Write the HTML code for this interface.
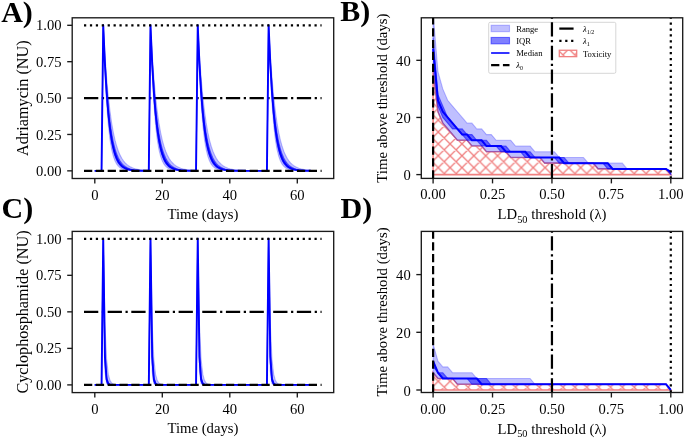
<!DOCTYPE html>
<html><head><meta charset="utf-8"><style>
html,body{margin:0;padding:0;background:#fff;}
svg{display:block;will-change:transform;}
</style></head><body>
<svg width="685" height="438" viewBox="0 0 685 438">
<defs>
<clipPath id="cA"><rect x="72.2" y="17.8" width="261.5" height="160.7"/></clipPath>
<clipPath id="cB"><rect x="421.3" y="17.8" width="261.4" height="160.6"/></clipPath>
<clipPath id="cC"><rect x="72.2" y="231.4" width="261.5" height="161.2"/></clipPath>
<clipPath id="cD"><rect x="421.3" y="231.4" width="261.4" height="161.1"/></clipPath>
<pattern id="hB" patternUnits="userSpaceOnUse" x="-0.95" y="1.45" width="11.87" height="11.87"><path d="M-1,12.87 L12.87,-1 M-1,1 L1,-1 M10.87,12.87 L12.87,10.87 M-1,-1 L12.87,12.87 M10.87,-1 L12.87,1 M-1,10.87 L1,12.87" stroke="#f08080" stroke-width="1.35" fill="none"/></pattern>
<pattern id="hD" patternUnits="userSpaceOnUse" x="-0.95" y="1.45" width="11.87" height="11.87"><path d="M-1,12.87 L12.87,-1 M-1,1 L1,-1 M10.87,12.87 L12.87,10.87 M-1,-1 L12.87,12.87 M10.87,-1 L12.87,1 M-1,10.87 L1,12.87" stroke="#f08080" stroke-width="1.35" fill="none"/></pattern>
</defs>
<rect width="685" height="438" fill="#fff"/>
<g clip-path="url(#cA)">
<line x1="84" y1="98.07" x2="321.6" y2="98.07" stroke="#000" stroke-width="2.232" stroke-dasharray="14.28 3.57 2.23 3.57"/>
<path d="M94.8,170.85 L96.49,170.85 L98.17,170.85 L99.86,170.85 L101.55,170.85 L103.24,25.3 L104.92,54.34 L106.61,77.58 L108.3,96.18 L109.99,111.08 L111.67,123 L113.36,132.55 L115.05,140.19 L116.74,146.3 L118.42,151.2 L120.11,155.12 L121.8,158.26 L123.49,160.77 L125.17,162.78 L126.86,164.39 L128.55,165.68 L130.24,166.71 L131.93,167.54 L133.61,168.2 L135.3,168.73 L136.99,169.15 L138.68,169.49 L140.36,169.76 L142.05,169.98 L143.74,170.15 L145.43,170.29 L147.11,170.4 L148.8,170.49 L150.49,25.3 L152.18,54.11 L153.86,77.39 L155.55,96.04 L157.24,110.96 L158.93,122.91 L160.61,132.47 L162.3,140.13 L163.99,146.26 L165.68,151.16 L167.36,155.09 L169.05,158.23 L170.74,160.75 L172.43,162.77 L174.11,164.38 L175.8,165.67 L177.49,166.7 L179.18,167.53 L180.86,168.19 L182.55,168.72 L184.24,169.15 L185.93,169.49 L187.61,169.76 L189.3,169.98 L190.99,170.15 L192.68,170.29 L194.36,170.4 L196.05,170.49 L197.74,25.3 L199.43,54.11 L201.11,77.39 L202.8,96.04 L204.49,110.96 L206.18,122.91 L207.86,132.47 L209.55,140.13 L211.24,146.26 L212.93,151.16 L214.61,155.09 L216.3,158.23 L217.99,160.75 L219.68,162.77 L221.36,164.38 L223.05,165.67 L224.74,166.7 L226.43,167.53 L228.11,168.19 L229.8,168.72 L231.49,169.15 L233.18,169.49 L234.86,169.76 L236.55,169.98 L238.24,170.15 L239.93,170.29 L241.61,170.4 L243.3,170.49 L244.99,170.56 L246.68,170.62 L248.36,170.67 L250.05,170.7 L251.74,170.73 L253.43,170.76 L255.11,170.77 L256.8,170.79 L258.49,170.8 L260.18,170.81 L261.86,170.82 L263.55,170.83 L265.24,170.83 L266.93,170.83 L268.61,25.3 L270.3,54.32 L271.99,77.57 L273.68,96.18 L275.36,111.07 L277.05,123 L278.74,132.54 L280.43,140.19 L282.11,146.3 L283.8,151.2 L285.49,155.12 L287.18,158.26 L288.86,160.77 L290.55,162.78 L292.24,164.39 L293.93,165.68 L295.61,166.71 L297.3,167.54 L298.99,168.2 L300.68,168.73 L302.36,169.15 L304.05,169.49 L305.74,169.76 L307.43,169.98 L309.11,170.15 L310.8,170.29 L310.8,170.84 L309.11,170.84 L307.43,170.83 L305.74,170.82 L304.05,170.81 L302.36,170.78 L300.68,170.75 L298.99,170.71 L297.3,170.64 L295.61,170.54 L293.93,170.4 L292.24,170.19 L290.55,169.87 L288.86,169.42 L287.18,168.74 L285.49,167.75 L283.8,166.3 L282.11,164.16 L280.43,161.02 L278.74,156.4 L277.05,149.62 L275.36,139.65 L273.68,124.99 L271.99,103.46 L270.3,71.81 L268.61,25.3 L266.93,170.85 L265.24,170.85 L263.55,170.85 L261.86,170.85 L260.18,170.85 L258.49,170.85 L256.8,170.85 L255.11,170.85 L253.43,170.85 L251.74,170.85 L250.05,170.85 L248.36,170.85 L246.68,170.85 L244.99,170.85 L243.3,170.85 L241.61,170.84 L239.93,170.84 L238.24,170.84 L236.55,170.83 L234.86,170.82 L233.18,170.81 L231.49,170.78 L229.8,170.75 L228.11,170.71 L226.43,170.64 L224.74,170.54 L223.05,170.4 L221.36,170.19 L219.68,169.87 L217.99,169.42 L216.3,168.74 L214.61,167.75 L212.93,166.3 L211.24,164.16 L209.55,161.02 L207.86,156.4 L206.18,149.62 L204.49,139.65 L202.8,124.99 L201.11,103.46 L199.43,71.81 L197.74,25.3 L196.05,170.85 L194.36,170.84 L192.68,170.84 L190.99,170.84 L189.3,170.83 L187.61,170.82 L185.93,170.81 L184.24,170.78 L182.55,170.75 L180.86,170.71 L179.18,170.64 L177.49,170.54 L175.8,170.4 L174.11,170.19 L172.43,169.87 L170.74,169.42 L169.05,168.74 L167.36,167.75 L165.68,166.3 L163.99,164.16 L162.3,161.02 L160.61,156.4 L158.93,149.62 L157.24,139.65 L155.55,124.99 L153.86,103.46 L152.18,71.81 L150.49,25.3 L148.8,170.85 L147.11,170.84 L145.43,170.84 L143.74,170.84 L142.05,170.83 L140.36,170.82 L138.68,170.81 L136.99,170.78 L135.3,170.75 L133.61,170.71 L131.93,170.64 L130.24,170.54 L128.55,170.4 L126.86,170.19 L125.17,169.87 L123.49,169.42 L121.8,168.74 L120.11,167.75 L118.42,166.3 L116.74,164.16 L115.05,161.02 L113.36,156.4 L111.67,149.62 L109.99,139.65 L108.3,124.99 L106.61,103.46 L104.92,71.81 L103.24,25.3 L101.55,170.85 L99.86,170.85 L98.17,170.85 L96.49,170.85 L94.8,170.85Z" fill="rgba(0,0,255,0.25)" stroke="rgba(0,0,255,0.25)" stroke-width="1.1" stroke-linejoin="round"/>
<path d="M94.8,170.85 L96.49,170.85 L98.17,170.85 L99.86,170.85 L101.55,170.85 L103.24,25.3 L104.92,59.74 L106.61,86.03 L108.3,106.1 L109.99,121.42 L111.67,133.12 L113.36,142.05 L115.05,148.86 L116.74,154.06 L118.42,158.04 L120.11,161.07 L121.8,163.38 L123.49,165.15 L125.17,166.5 L126.86,167.53 L128.55,168.31 L130.24,168.91 L131.93,169.37 L133.61,169.72 L135.3,169.99 L136.99,170.19 L138.68,170.35 L140.36,170.47 L142.05,170.56 L143.74,170.63 L145.43,170.68 L147.11,170.72 L148.8,170.75 L150.49,25.3 L152.18,59.68 L153.86,85.99 L155.55,106.07 L157.24,121.4 L158.93,133.1 L160.61,142.03 L162.3,148.85 L163.99,154.06 L165.68,158.03 L167.36,161.06 L169.05,163.38 L170.74,165.15 L172.43,166.5 L174.11,167.53 L175.8,168.31 L177.49,168.91 L179.18,169.37 L180.86,169.72 L182.55,169.99 L184.24,170.19 L185.93,170.35 L187.61,170.47 L189.3,170.56 L190.99,170.63 L192.68,170.68 L194.36,170.72 L196.05,170.75 L197.74,25.3 L199.43,59.68 L201.11,85.99 L202.8,106.07 L204.49,121.4 L206.18,133.1 L207.86,142.03 L209.55,148.85 L211.24,154.06 L212.93,158.03 L214.61,161.06 L216.3,163.38 L217.99,165.15 L219.68,166.5 L221.36,167.53 L223.05,168.31 L224.74,168.91 L226.43,169.37 L228.11,169.72 L229.8,169.99 L231.49,170.19 L233.18,170.35 L234.86,170.47 L236.55,170.56 L238.24,170.63 L239.93,170.68 L241.61,170.72 L243.3,170.75 L244.99,170.77 L246.68,170.79 L248.36,170.81 L250.05,170.82 L251.74,170.82 L253.43,170.83 L255.11,170.83 L256.8,170.84 L258.49,170.84 L260.18,170.84 L261.86,170.84 L263.55,170.85 L265.24,170.85 L266.93,170.85 L268.61,25.3 L270.3,59.74 L271.99,86.03 L273.68,106.1 L275.36,121.42 L277.05,133.12 L278.74,142.05 L280.43,148.86 L282.11,154.06 L283.8,158.04 L285.49,161.07 L287.18,163.38 L288.86,165.15 L290.55,166.5 L292.24,167.53 L293.93,168.31 L295.61,168.91 L297.3,169.37 L298.99,169.72 L300.68,169.99 L302.36,170.19 L304.05,170.35 L305.74,170.47 L307.43,170.56 L309.11,170.63 L310.8,170.68 L310.8,170.81 L309.11,170.8 L307.43,170.78 L305.74,170.75 L304.05,170.71 L302.36,170.65 L300.68,170.57 L298.99,170.47 L297.3,170.32 L295.61,170.11 L293.93,169.82 L292.24,169.42 L290.55,168.86 L288.86,168.08 L287.18,166.99 L285.49,165.48 L283.8,163.38 L282.11,160.46 L280.43,156.4 L278.74,150.75 L277.05,142.9 L275.36,131.97 L273.68,116.77 L271.99,95.62 L270.3,66.21 L268.61,25.3 L266.93,170.85 L265.24,170.85 L263.55,170.85 L261.86,170.85 L260.18,170.85 L258.49,170.85 L256.8,170.85 L255.11,170.85 L253.43,170.85 L251.74,170.85 L250.05,170.84 L248.36,170.84 L246.68,170.84 L244.99,170.84 L243.3,170.83 L241.61,170.82 L239.93,170.81 L238.24,170.8 L236.55,170.78 L234.86,170.75 L233.18,170.71 L231.49,170.65 L229.8,170.57 L228.11,170.47 L226.43,170.32 L224.74,170.11 L223.05,169.82 L221.36,169.42 L219.68,168.86 L217.99,168.08 L216.3,166.99 L214.61,165.48 L212.93,163.38 L211.24,160.46 L209.55,156.4 L207.86,150.75 L206.18,142.89 L204.49,131.96 L202.8,116.76 L201.11,95.61 L199.43,66.2 L197.74,25.3 L196.05,170.83 L194.36,170.82 L192.68,170.81 L190.99,170.8 L189.3,170.78 L187.61,170.75 L185.93,170.71 L184.24,170.65 L182.55,170.57 L180.86,170.47 L179.18,170.32 L177.49,170.11 L175.8,169.82 L174.11,169.42 L172.43,168.86 L170.74,168.08 L169.05,166.99 L167.36,165.48 L165.68,163.38 L163.99,160.46 L162.3,156.4 L160.61,150.75 L158.93,142.89 L157.24,131.96 L155.55,116.76 L153.86,95.61 L152.18,66.2 L150.49,25.3 L148.8,170.83 L147.11,170.82 L145.43,170.81 L143.74,170.8 L142.05,170.78 L140.36,170.75 L138.68,170.71 L136.99,170.65 L135.3,170.57 L133.61,170.47 L131.93,170.32 L130.24,170.11 L128.55,169.82 L126.86,169.42 L125.17,168.86 L123.49,168.08 L121.8,166.99 L120.11,165.48 L118.42,163.38 L116.74,160.46 L115.05,156.4 L113.36,150.75 L111.67,142.9 L109.99,131.97 L108.3,116.77 L106.61,95.62 L104.92,66.21 L103.24,25.3 L101.55,170.85 L99.86,170.85 L98.17,170.85 L96.49,170.85 L94.8,170.85Z" fill="rgba(0,0,255,0.5)" stroke="rgba(0,0,255,0.5)" stroke-width="1.1" stroke-linejoin="round"/>
<path d="M94.8,170.85 L96.49,170.85 L98.17,170.85 L99.86,170.85 L101.55,170.85 L103.24,25.3 L104.92,63.83 L106.61,92.16 L108.3,112.99 L109.99,128.31 L111.67,139.57 L113.36,147.85 L115.05,153.94 L116.74,158.41 L118.42,161.71 L120.11,164.13 L121.8,165.91 L123.49,167.22 L125.17,168.18 L126.86,168.88 L128.55,169.41 L130.24,169.79 L131.93,170.07 L133.61,170.28 L135.3,170.43 L136.99,170.54 L138.68,170.62 L140.36,170.68 L142.05,170.73 L143.74,170.76 L145.43,170.78 L147.11,170.8 L148.8,170.81 L150.49,25.3 L152.18,63.81 L153.86,92.15 L155.55,112.98 L157.24,128.3 L158.93,139.56 L160.61,147.85 L162.3,153.93 L163.99,158.41 L165.68,161.71 L167.36,164.13 L169.05,165.91 L170.74,167.21 L172.43,168.18 L174.11,168.88 L175.8,169.4 L177.49,169.79 L179.18,170.07 L180.86,170.28 L182.55,170.43 L184.24,170.54 L185.93,170.62 L187.61,170.68 L189.3,170.73 L190.99,170.76 L192.68,170.78 L194.36,170.8 L196.05,170.81 L197.74,25.3 L199.43,63.81 L201.11,92.15 L202.8,112.98 L204.49,128.3 L206.18,139.56 L207.86,147.85 L209.55,153.93 L211.24,158.41 L212.93,161.71 L214.61,164.13 L216.3,165.91 L217.99,167.21 L219.68,168.18 L221.36,168.88 L223.05,169.4 L224.74,169.79 L226.43,170.07 L228.11,170.28 L229.8,170.43 L231.49,170.54 L233.18,170.62 L234.86,170.68 L236.55,170.73 L238.24,170.76 L239.93,170.78 L241.61,170.8 L243.3,170.81 L244.99,170.82 L246.68,170.83 L248.36,170.84 L250.05,170.84 L251.74,170.84 L253.43,170.84 L255.11,170.85 L256.8,170.85 L258.49,170.85 L260.18,170.85 L261.86,170.85 L263.55,170.85 L265.24,170.85 L266.93,170.85 L268.61,25.3 L270.3,63.83 L271.99,92.16 L273.68,112.99 L275.36,128.31 L277.05,139.57 L278.74,147.85 L280.43,153.94 L282.11,158.41 L283.8,161.71 L285.49,164.13 L287.18,165.91 L288.86,167.22 L290.55,168.18 L292.24,168.88 L293.93,169.41 L295.61,169.79 L297.3,170.07 L298.99,170.28 L300.68,170.43 L302.36,170.54 L304.05,170.62 L305.74,170.68 L307.43,170.73 L309.11,170.76 L310.8,170.78" fill="none" stroke="#0000ff" stroke-width="1.9" stroke-linejoin="round"/>
<line x1="84" y1="25.3" x2="321.6" y2="25.3" stroke="#000" stroke-width="2.232" stroke-dasharray="2.23 3.68"/>
<line x1="84" y1="170.85" x2="321.6" y2="170.85" stroke="#000" stroke-width="2.232" stroke-dasharray="8.26 3.57"/>
</g>
<rect x="72.2" y="17.8" width="261.5" height="160.7" fill="none" stroke="#1a1a1a" stroke-width="1.35"/>
<line x1="94.8" y1="178.5" x2="94.8" y2="183.5" stroke="#1a1a1a" stroke-width="1.35"/>
<text x="94.8" y="199.5" text-anchor="middle" font-size="14.6" font-family="Liberation Serif, serif">0</text>
<line x1="162.3" y1="178.5" x2="162.3" y2="183.5" stroke="#1a1a1a" stroke-width="1.35"/>
<text x="162.3" y="199.5" text-anchor="middle" font-size="14.6" font-family="Liberation Serif, serif">20</text>
<line x1="229.8" y1="178.5" x2="229.8" y2="183.5" stroke="#1a1a1a" stroke-width="1.35"/>
<text x="229.8" y="199.5" text-anchor="middle" font-size="14.6" font-family="Liberation Serif, serif">40</text>
<line x1="297.3" y1="178.5" x2="297.3" y2="183.5" stroke="#1a1a1a" stroke-width="1.35"/>
<text x="297.3" y="199.5" text-anchor="middle" font-size="14.6" font-family="Liberation Serif, serif">60</text>
<line x1="67.2" y1="170.85" x2="72.2" y2="170.85" stroke="#1a1a1a" stroke-width="1.35"/>
<text x="61.6" y="175.95" text-anchor="end" font-size="14.6" font-family="Liberation Serif, serif">0.00</text>
<line x1="67.2" y1="134.46" x2="72.2" y2="134.46" stroke="#1a1a1a" stroke-width="1.35"/>
<text x="61.6" y="139.56" text-anchor="end" font-size="14.6" font-family="Liberation Serif, serif">0.25</text>
<line x1="67.2" y1="98.07" x2="72.2" y2="98.07" stroke="#1a1a1a" stroke-width="1.35"/>
<text x="61.6" y="103.17" text-anchor="end" font-size="14.6" font-family="Liberation Serif, serif">0.50</text>
<line x1="67.2" y1="61.69" x2="72.2" y2="61.69" stroke="#1a1a1a" stroke-width="1.35"/>
<text x="61.6" y="66.79" text-anchor="end" font-size="14.6" font-family="Liberation Serif, serif">0.75</text>
<line x1="67.2" y1="25.3" x2="72.2" y2="25.3" stroke="#1a1a1a" stroke-width="1.35"/>
<text x="61.6" y="30.4" text-anchor="end" font-size="14.6" font-family="Liberation Serif, serif">1.00</text>
<text x="202.95" y="218.5" text-anchor="middle" font-size="14.7" font-family="Liberation Serif, serif">Time (days)</text>
<text transform="translate(27.8,98.15) rotate(-90)" text-anchor="middle" font-size="16.2" font-family="Liberation Serif, serif">Adriamycin (NU)</text>
<g clip-path="url(#cC)">
<line x1="84" y1="311.85" x2="321.6" y2="311.85" stroke="#000" stroke-width="2.232" stroke-dasharray="14.28 3.57 2.23 3.57"/>
<path d="M94.8,384.9 L96.49,384.9 L98.17,384.9 L99.86,384.9 L101.55,384.9 L103.24,238.8 L104.92,323.69 L106.61,359.26 L108.3,374.16 L109.99,380.4 L111.67,383.01 L113.36,384.11 L115.05,384.57 L116.74,384.76 L118.42,384.84 L120.11,384.88 L121.8,384.89 L123.49,384.9 L125.17,384.9 L126.86,384.9 L128.55,384.9 L130.24,384.9 L131.93,384.9 L133.61,384.9 L135.3,384.9 L136.99,384.9 L138.68,384.9 L140.36,384.9 L142.05,384.9 L143.74,384.9 L145.43,384.9 L147.11,384.9 L148.8,384.9 L150.49,238.8 L152.18,323.69 L153.86,359.26 L155.55,374.16 L157.24,380.4 L158.93,383.01 L160.61,384.11 L162.3,384.57 L163.99,384.76 L165.68,384.84 L167.36,384.88 L169.05,384.89 L170.74,384.9 L172.43,384.9 L174.11,384.9 L175.8,384.9 L177.49,384.9 L179.18,384.9 L180.86,384.9 L182.55,384.9 L184.24,384.9 L185.93,384.9 L187.61,384.9 L189.3,384.9 L190.99,384.9 L192.68,384.9 L194.36,384.9 L196.05,384.9 L197.74,238.8 L199.43,323.69 L201.11,359.26 L202.8,374.16 L204.49,380.4 L206.18,383.01 L207.86,384.11 L209.55,384.57 L211.24,384.76 L212.93,384.84 L214.61,384.88 L216.3,384.89 L217.99,384.9 L219.68,384.9 L221.36,384.9 L223.05,384.9 L224.74,384.9 L226.43,384.9 L228.11,384.9 L229.8,384.9 L231.49,384.9 L233.18,384.9 L234.86,384.9 L236.55,384.9 L238.24,384.9 L239.93,384.9 L241.61,384.9 L243.3,384.9 L244.99,384.9 L246.68,384.9 L248.36,384.9 L250.05,384.9 L251.74,384.9 L253.43,384.9 L255.11,384.9 L256.8,384.9 L258.49,384.9 L260.18,384.9 L261.86,384.9 L263.55,384.9 L265.24,384.9 L266.93,384.9 L268.61,238.8 L270.3,323.69 L271.99,359.26 L273.68,374.16 L275.36,380.4 L277.05,383.01 L278.74,384.11 L280.43,384.57 L282.11,384.76 L283.8,384.84 L285.49,384.88 L287.18,384.89 L288.86,384.9 L290.55,384.9 L292.24,384.9 L293.93,384.9 L295.61,384.9 L297.3,384.9 L298.99,384.9 L300.68,384.9 L302.36,384.9 L304.05,384.9 L305.74,384.9 L307.43,384.9 L309.11,384.9 L310.8,384.9 L310.8,384.9 L309.11,384.9 L307.43,384.9 L305.74,384.9 L304.05,384.9 L302.36,384.9 L300.68,384.9 L298.99,384.9 L297.3,384.9 L295.61,384.9 L293.93,384.9 L292.24,384.9 L290.55,384.9 L288.86,384.9 L287.18,384.9 L285.49,384.9 L283.8,384.9 L282.11,384.9 L280.43,384.9 L278.74,384.9 L277.05,384.9 L275.36,384.89 L273.68,384.78 L271.99,383.64 L270.3,371.31 L268.61,238.8 L266.93,384.9 L265.24,384.9 L263.55,384.9 L261.86,384.9 L260.18,384.9 L258.49,384.9 L256.8,384.9 L255.11,384.9 L253.43,384.9 L251.74,384.9 L250.05,384.9 L248.36,384.9 L246.68,384.9 L244.99,384.9 L243.3,384.9 L241.61,384.9 L239.93,384.9 L238.24,384.9 L236.55,384.9 L234.86,384.9 L233.18,384.9 L231.49,384.9 L229.8,384.9 L228.11,384.9 L226.43,384.9 L224.74,384.9 L223.05,384.9 L221.36,384.9 L219.68,384.9 L217.99,384.9 L216.3,384.9 L214.61,384.9 L212.93,384.9 L211.24,384.9 L209.55,384.9 L207.86,384.9 L206.18,384.9 L204.49,384.89 L202.8,384.78 L201.11,383.64 L199.43,371.31 L197.74,238.8 L196.05,384.9 L194.36,384.9 L192.68,384.9 L190.99,384.9 L189.3,384.9 L187.61,384.9 L185.93,384.9 L184.24,384.9 L182.55,384.9 L180.86,384.9 L179.18,384.9 L177.49,384.9 L175.8,384.9 L174.11,384.9 L172.43,384.9 L170.74,384.9 L169.05,384.9 L167.36,384.9 L165.68,384.9 L163.99,384.9 L162.3,384.9 L160.61,384.9 L158.93,384.9 L157.24,384.89 L155.55,384.78 L153.86,383.64 L152.18,371.31 L150.49,238.8 L148.8,384.9 L147.11,384.9 L145.43,384.9 L143.74,384.9 L142.05,384.9 L140.36,384.9 L138.68,384.9 L136.99,384.9 L135.3,384.9 L133.61,384.9 L131.93,384.9 L130.24,384.9 L128.55,384.9 L126.86,384.9 L125.17,384.9 L123.49,384.9 L121.8,384.9 L120.11,384.9 L118.42,384.9 L116.74,384.9 L115.05,384.9 L113.36,384.9 L111.67,384.9 L109.99,384.89 L108.3,384.78 L106.61,383.64 L104.92,371.31 L103.24,238.8 L101.55,384.9 L99.86,384.9 L98.17,384.9 L96.49,384.9 L94.8,384.9Z" fill="rgba(0,0,255,0.25)" stroke="rgba(0,0,255,0.25)" stroke-width="1.1" stroke-linejoin="round"/>
<path d="M94.8,384.9 L96.49,384.9 L98.17,384.9 L99.86,384.9 L101.55,384.9 L103.24,238.8 L104.92,350.63 L106.61,376.86 L108.3,383.01 L109.99,384.46 L111.67,384.8 L113.36,384.88 L115.05,384.89 L116.74,384.9 L118.42,384.9 L120.11,384.9 L121.8,384.9 L123.49,384.9 L125.17,384.9 L126.86,384.9 L128.55,384.9 L130.24,384.9 L131.93,384.9 L133.61,384.9 L135.3,384.9 L136.99,384.9 L138.68,384.9 L140.36,384.9 L142.05,384.9 L143.74,384.9 L145.43,384.9 L147.11,384.9 L148.8,384.9 L150.49,238.8 L152.18,350.63 L153.86,376.86 L155.55,383.01 L157.24,384.46 L158.93,384.8 L160.61,384.88 L162.3,384.89 L163.99,384.9 L165.68,384.9 L167.36,384.9 L169.05,384.9 L170.74,384.9 L172.43,384.9 L174.11,384.9 L175.8,384.9 L177.49,384.9 L179.18,384.9 L180.86,384.9 L182.55,384.9 L184.24,384.9 L185.93,384.9 L187.61,384.9 L189.3,384.9 L190.99,384.9 L192.68,384.9 L194.36,384.9 L196.05,384.9 L197.74,238.8 L199.43,350.63 L201.11,376.86 L202.8,383.01 L204.49,384.46 L206.18,384.8 L207.86,384.88 L209.55,384.89 L211.24,384.9 L212.93,384.9 L214.61,384.9 L216.3,384.9 L217.99,384.9 L219.68,384.9 L221.36,384.9 L223.05,384.9 L224.74,384.9 L226.43,384.9 L228.11,384.9 L229.8,384.9 L231.49,384.9 L233.18,384.9 L234.86,384.9 L236.55,384.9 L238.24,384.9 L239.93,384.9 L241.61,384.9 L243.3,384.9 L244.99,384.9 L246.68,384.9 L248.36,384.9 L250.05,384.9 L251.74,384.9 L253.43,384.9 L255.11,384.9 L256.8,384.9 L258.49,384.9 L260.18,384.9 L261.86,384.9 L263.55,384.9 L265.24,384.9 L266.93,384.9 L268.61,238.8 L270.3,350.63 L271.99,376.86 L273.68,383.01 L275.36,384.46 L277.05,384.8 L278.74,384.88 L280.43,384.89 L282.11,384.9 L283.8,384.9 L285.49,384.9 L287.18,384.9 L288.86,384.9 L290.55,384.9 L292.24,384.9 L293.93,384.9 L295.61,384.9 L297.3,384.9 L298.99,384.9 L300.68,384.9 L302.36,384.9 L304.05,384.9 L305.74,384.9 L307.43,384.9 L309.11,384.9 L310.8,384.9 L310.8,384.9 L309.11,384.9 L307.43,384.9 L305.74,384.9 L304.05,384.9 L302.36,384.9 L300.68,384.9 L298.99,384.9 L297.3,384.9 L295.61,384.9 L293.93,384.9 L292.24,384.9 L290.55,384.9 L288.86,384.9 L287.18,384.9 L285.49,384.9 L283.8,384.9 L282.11,384.9 L280.43,384.9 L278.74,384.9 L277.05,384.89 L275.36,384.82 L273.68,384.37 L271.99,381.46 L270.3,362.49 L268.61,238.8 L266.93,384.9 L265.24,384.9 L263.55,384.9 L261.86,384.9 L260.18,384.9 L258.49,384.9 L256.8,384.9 L255.11,384.9 L253.43,384.9 L251.74,384.9 L250.05,384.9 L248.36,384.9 L246.68,384.9 L244.99,384.9 L243.3,384.9 L241.61,384.9 L239.93,384.9 L238.24,384.9 L236.55,384.9 L234.86,384.9 L233.18,384.9 L231.49,384.9 L229.8,384.9 L228.11,384.9 L226.43,384.9 L224.74,384.9 L223.05,384.9 L221.36,384.9 L219.68,384.9 L217.99,384.9 L216.3,384.9 L214.61,384.9 L212.93,384.9 L211.24,384.9 L209.55,384.9 L207.86,384.9 L206.18,384.89 L204.49,384.82 L202.8,384.37 L201.11,381.46 L199.43,362.49 L197.74,238.8 L196.05,384.9 L194.36,384.9 L192.68,384.9 L190.99,384.9 L189.3,384.9 L187.61,384.9 L185.93,384.9 L184.24,384.9 L182.55,384.9 L180.86,384.9 L179.18,384.9 L177.49,384.9 L175.8,384.9 L174.11,384.9 L172.43,384.9 L170.74,384.9 L169.05,384.9 L167.36,384.9 L165.68,384.9 L163.99,384.9 L162.3,384.9 L160.61,384.9 L158.93,384.89 L157.24,384.82 L155.55,384.37 L153.86,381.46 L152.18,362.49 L150.49,238.8 L148.8,384.9 L147.11,384.9 L145.43,384.9 L143.74,384.9 L142.05,384.9 L140.36,384.9 L138.68,384.9 L136.99,384.9 L135.3,384.9 L133.61,384.9 L131.93,384.9 L130.24,384.9 L128.55,384.9 L126.86,384.9 L125.17,384.9 L123.49,384.9 L121.8,384.9 L120.11,384.9 L118.42,384.9 L116.74,384.9 L115.05,384.9 L113.36,384.9 L111.67,384.89 L109.99,384.82 L108.3,384.37 L106.61,381.46 L104.92,362.49 L103.24,238.8 L101.55,384.9 L99.86,384.9 L98.17,384.9 L96.49,384.9 L94.8,384.9Z" fill="rgba(0,0,255,0.5)" stroke="rgba(0,0,255,0.5)" stroke-width="1.1" stroke-linejoin="round"/>
<path d="M94.8,384.9 L96.49,384.9 L98.17,384.9 L99.86,384.9 L101.55,384.9 L103.24,238.8 L104.92,356.56 L106.61,379.4 L108.3,383.83 L109.99,384.69 L111.67,384.86 L113.36,384.89 L115.05,384.9 L116.74,384.9 L118.42,384.9 L120.11,384.9 L121.8,384.9 L123.49,384.9 L125.17,384.9 L126.86,384.9 L128.55,384.9 L130.24,384.9 L131.93,384.9 L133.61,384.9 L135.3,384.9 L136.99,384.9 L138.68,384.9 L140.36,384.9 L142.05,384.9 L143.74,384.9 L145.43,384.9 L147.11,384.9 L148.8,384.9 L150.49,238.8 L152.18,356.56 L153.86,379.4 L155.55,383.83 L157.24,384.69 L158.93,384.86 L160.61,384.89 L162.3,384.9 L163.99,384.9 L165.68,384.9 L167.36,384.9 L169.05,384.9 L170.74,384.9 L172.43,384.9 L174.11,384.9 L175.8,384.9 L177.49,384.9 L179.18,384.9 L180.86,384.9 L182.55,384.9 L184.24,384.9 L185.93,384.9 L187.61,384.9 L189.3,384.9 L190.99,384.9 L192.68,384.9 L194.36,384.9 L196.05,384.9 L197.74,238.8 L199.43,356.56 L201.11,379.4 L202.8,383.83 L204.49,384.69 L206.18,384.86 L207.86,384.89 L209.55,384.9 L211.24,384.9 L212.93,384.9 L214.61,384.9 L216.3,384.9 L217.99,384.9 L219.68,384.9 L221.36,384.9 L223.05,384.9 L224.74,384.9 L226.43,384.9 L228.11,384.9 L229.8,384.9 L231.49,384.9 L233.18,384.9 L234.86,384.9 L236.55,384.9 L238.24,384.9 L239.93,384.9 L241.61,384.9 L243.3,384.9 L244.99,384.9 L246.68,384.9 L248.36,384.9 L250.05,384.9 L251.74,384.9 L253.43,384.9 L255.11,384.9 L256.8,384.9 L258.49,384.9 L260.18,384.9 L261.86,384.9 L263.55,384.9 L265.24,384.9 L266.93,384.9 L268.61,238.8 L270.3,356.56 L271.99,379.4 L273.68,383.83 L275.36,384.69 L277.05,384.86 L278.74,384.89 L280.43,384.9 L282.11,384.9 L283.8,384.9 L285.49,384.9 L287.18,384.9 L288.86,384.9 L290.55,384.9 L292.24,384.9 L293.93,384.9 L295.61,384.9 L297.3,384.9 L298.99,384.9 L300.68,384.9 L302.36,384.9 L304.05,384.9 L305.74,384.9 L307.43,384.9 L309.11,384.9 L310.8,384.9" fill="none" stroke="#0000ff" stroke-width="1.9" stroke-linejoin="round"/>
<line x1="84" y1="238.8" x2="321.6" y2="238.8" stroke="#000" stroke-width="2.232" stroke-dasharray="2.23 3.68"/>
<line x1="84" y1="384.9" x2="321.6" y2="384.9" stroke="#000" stroke-width="2.232" stroke-dasharray="8.26 3.57"/>
</g>
<rect x="72.2" y="231.4" width="261.5" height="161.2" fill="none" stroke="#1a1a1a" stroke-width="1.35"/>
<line x1="94.8" y1="392.6" x2="94.8" y2="397.6" stroke="#1a1a1a" stroke-width="1.35"/>
<text x="94.8" y="413.6" text-anchor="middle" font-size="14.6" font-family="Liberation Serif, serif">0</text>
<line x1="162.3" y1="392.6" x2="162.3" y2="397.6" stroke="#1a1a1a" stroke-width="1.35"/>
<text x="162.3" y="413.6" text-anchor="middle" font-size="14.6" font-family="Liberation Serif, serif">20</text>
<line x1="229.8" y1="392.6" x2="229.8" y2="397.6" stroke="#1a1a1a" stroke-width="1.35"/>
<text x="229.8" y="413.6" text-anchor="middle" font-size="14.6" font-family="Liberation Serif, serif">40</text>
<line x1="297.3" y1="392.6" x2="297.3" y2="397.6" stroke="#1a1a1a" stroke-width="1.35"/>
<text x="297.3" y="413.6" text-anchor="middle" font-size="14.6" font-family="Liberation Serif, serif">60</text>
<line x1="67.2" y1="384.9" x2="72.2" y2="384.9" stroke="#1a1a1a" stroke-width="1.35"/>
<text x="61.6" y="390" text-anchor="end" font-size="14.6" font-family="Liberation Serif, serif">0.00</text>
<line x1="67.2" y1="348.38" x2="72.2" y2="348.38" stroke="#1a1a1a" stroke-width="1.35"/>
<text x="61.6" y="353.48" text-anchor="end" font-size="14.6" font-family="Liberation Serif, serif">0.25</text>
<line x1="67.2" y1="311.85" x2="72.2" y2="311.85" stroke="#1a1a1a" stroke-width="1.35"/>
<text x="61.6" y="316.95" text-anchor="end" font-size="14.6" font-family="Liberation Serif, serif">0.50</text>
<line x1="67.2" y1="275.32" x2="72.2" y2="275.32" stroke="#1a1a1a" stroke-width="1.35"/>
<text x="61.6" y="280.43" text-anchor="end" font-size="14.6" font-family="Liberation Serif, serif">0.75</text>
<line x1="67.2" y1="238.8" x2="72.2" y2="238.8" stroke="#1a1a1a" stroke-width="1.35"/>
<text x="61.6" y="243.9" text-anchor="end" font-size="14.6" font-family="Liberation Serif, serif">1.00</text>
<text x="202.95" y="432.6" text-anchor="middle" font-size="14.7" font-family="Liberation Serif, serif">Time (days)</text>
<text transform="translate(27.8,312) rotate(-90)" text-anchor="middle" font-size="16.2" font-family="Liberation Serif, serif">Cyclophosphamide (NU)</text>
<g clip-path="url(#cB)">
<path d="M433.1,71.75 L437.95,111.75 L442.8,123.17 L447.65,128.89 L452.5,134.6 L457.36,140.32 L462.21,140.32 L467.06,140.32 L471.91,146.03 L476.76,146.03 L481.61,146.03 L486.46,151.74 L491.31,151.74 L496.16,151.74 L501.01,151.74 L505.87,151.74 L510.72,157.46 L515.57,157.46 L520.42,157.46 L525.27,157.46 L530.12,157.46 L534.97,157.46 L539.82,157.46 L544.67,163.17 L549.52,163.17 L554.38,163.17 L559.23,163.17 L564.08,163.17 L568.93,163.17 L573.78,163.17 L578.63,163.17 L583.48,163.17 L588.33,163.17 L593.18,163.17 L598.03,168.89 L602.89,168.89 L607.74,168.89 L612.59,168.89 L617.44,168.89 L622.29,168.89 L627.14,168.89 L631.99,168.89 L636.84,168.89 L641.69,168.89 L646.54,168.89 L651.4,168.89 L656.25,168.89 L661.1,168.89 L665.95,168.89 L670.8,174.6 L670.8,174.6 L665.95,174.6 L661.1,174.6 L656.25,174.6 L651.4,174.6 L646.54,174.6 L641.69,174.6 L636.84,174.6 L631.99,174.6 L627.14,174.6 L622.29,174.6 L617.44,174.6 L612.59,174.6 L607.74,174.6 L602.89,174.6 L598.03,174.6 L593.18,174.6 L588.33,174.6 L583.48,174.6 L578.63,174.6 L573.78,174.6 L568.93,174.6 L564.08,174.6 L559.23,174.6 L554.38,174.6 L549.52,174.6 L544.67,174.6 L539.82,174.6 L534.97,174.6 L530.12,174.6 L525.27,174.6 L520.42,174.6 L515.57,174.6 L510.72,174.6 L505.87,174.6 L501.01,174.6 L496.16,174.6 L491.31,174.6 L486.46,174.6 L481.61,174.6 L476.76,174.6 L471.91,174.6 L467.06,174.6 L462.21,174.6 L457.36,174.6 L452.5,174.6 L447.65,174.6 L442.8,174.6 L437.95,174.6 L433.1,174.6Z" fill="url(#hB)" stroke="#f08080" stroke-width="1.6"/>
<path d="M433.1,13.18 L437.95,71.75 L442.8,88.89 L447.65,100.32 L452.5,106.03 L457.36,111.75 L462.21,117.46 L467.06,123.17 L471.91,123.17 L476.76,128.89 L481.61,128.89 L486.46,134.6 L491.31,134.6 L496.16,140.32 L501.01,140.32 L505.87,140.32 L510.72,140.32 L515.57,146.03 L520.42,146.03 L525.27,146.03 L530.12,146.03 L534.97,151.74 L539.82,151.74 L544.67,151.74 L549.52,151.74 L554.38,151.74 L559.23,157.46 L564.08,157.46 L568.93,157.46 L573.78,157.46 L578.63,157.46 L583.48,157.46 L588.33,163.17 L593.18,163.17 L598.03,163.17 L602.89,163.17 L607.74,163.17 L612.59,163.17 L617.44,163.17 L622.29,163.17 L627.14,168.89 L631.99,168.89 L636.84,168.89 L641.69,168.89 L646.54,168.89 L651.4,168.89 L656.25,168.89 L661.1,168.89 L665.95,168.89 L670.8,171.74 L670.8,174.6 L665.95,168.89 L661.1,168.89 L656.25,168.89 L651.4,168.89 L646.54,168.89 L641.69,168.89 L636.84,168.89 L631.99,168.89 L627.14,168.89 L622.29,168.89 L617.44,168.89 L612.59,168.89 L607.74,168.89 L602.89,168.89 L598.03,168.89 L593.18,163.17 L588.33,163.17 L583.48,163.17 L578.63,163.17 L573.78,163.17 L568.93,163.17 L564.08,163.17 L559.23,163.17 L554.38,163.17 L549.52,163.17 L544.67,163.17 L539.82,157.46 L534.97,157.46 L530.12,157.46 L525.27,157.46 L520.42,157.46 L515.57,157.46 L510.72,157.46 L505.87,151.74 L501.01,151.74 L496.16,151.74 L491.31,151.74 L486.46,151.74 L481.61,146.03 L476.76,146.03 L471.91,146.03 L467.06,140.32 L462.21,140.32 L457.36,140.32 L452.5,134.6 L447.65,128.89 L442.8,123.17 L437.95,111.75 L433.1,71.75Z" fill="rgba(0,0,255,0.25)" stroke="rgba(0,0,255,0.25)" stroke-width="1.1"/>
<path d="M433.1,37.46 L437.95,94.6 L442.8,106.03 L447.65,117.46 L452.5,123.17 L457.36,128.89 L462.21,128.89 L467.06,134.6 L471.91,134.6 L476.76,140.32 L481.61,140.32 L486.46,140.32 L491.31,146.03 L496.16,146.03 L501.01,146.03 L505.87,146.03 L510.72,151.74 L515.57,151.74 L520.42,151.74 L525.27,151.74 L530.12,151.74 L534.97,157.46 L539.82,157.46 L544.67,157.46 L549.52,157.46 L554.38,157.46 L559.23,157.46 L564.08,157.46 L568.93,163.17 L573.78,163.17 L578.63,163.17 L583.48,163.17 L588.33,163.17 L593.18,163.17 L598.03,163.17 L602.89,163.17 L607.74,163.17 L612.59,168.89 L617.44,168.89 L622.29,168.89 L627.14,168.89 L631.99,168.89 L636.84,168.89 L641.69,168.89 L646.54,168.89 L651.4,168.89 L656.25,168.89 L661.1,168.89 L665.95,168.89 L670.8,171.74 L670.8,174.6 L665.95,168.89 L661.1,168.89 L656.25,168.89 L651.4,168.89 L646.54,168.89 L641.69,168.89 L636.84,168.89 L631.99,168.89 L627.14,168.89 L622.29,168.89 L617.44,168.89 L612.59,168.89 L607.74,168.89 L602.89,163.17 L598.03,163.17 L593.18,163.17 L588.33,163.17 L583.48,163.17 L578.63,163.17 L573.78,163.17 L568.93,163.17 L564.08,163.17 L559.23,163.17 L554.38,157.46 L549.52,157.46 L544.67,157.46 L539.82,157.46 L534.97,157.46 L530.12,157.46 L525.27,157.46 L520.42,151.74 L515.57,151.74 L510.72,151.74 L505.87,151.74 L501.01,151.74 L496.16,146.03 L491.31,146.03 L486.46,146.03 L481.61,146.03 L476.76,140.32 L471.91,140.32 L467.06,140.32 L462.21,134.6 L457.36,128.89 L452.5,128.89 L447.65,123.17 L442.8,117.46 L437.95,106.03 L433.1,54.61Z" fill="rgba(0,0,255,0.5)" stroke="rgba(0,0,255,0.5)" stroke-width="1.1"/>
<path d="M433.1,48.89 L437.95,100.32 L442.8,111.75 L447.65,117.46 L452.5,123.17 L457.36,128.89 L462.21,134.6 L467.06,134.6 L471.91,140.32 L476.76,140.32 L481.61,140.32 L486.46,146.03 L491.31,146.03 L496.16,146.03 L501.01,146.03 L505.87,151.74 L510.72,151.74 L515.57,151.74 L520.42,151.74 L525.27,151.74 L530.12,157.46 L534.97,157.46 L539.82,157.46 L544.67,157.46 L549.52,157.46 L554.38,157.46 L559.23,157.46 L564.08,163.17 L568.93,163.17 L573.78,163.17 L578.63,163.17 L583.48,163.17 L588.33,163.17 L593.18,163.17 L598.03,163.17 L602.89,163.17 L607.74,163.17 L612.59,168.89 L617.44,168.89 L622.29,168.89 L627.14,168.89 L631.99,168.89 L636.84,168.89 L641.69,168.89 L646.54,168.89 L651.4,168.89 L656.25,168.89 L661.1,168.89 L665.95,168.89 L670.8,171.74" fill="none" stroke="#0000ff" stroke-width="2.0"/>
</g>
<rect x="421.3" y="17.8" width="261.4" height="160.6" fill="none" stroke="#1a1a1a" stroke-width="1.35"/>
<line x1="433.1" y1="178.4" x2="433.1" y2="183.4" stroke="#1a1a1a" stroke-width="1.35"/>
<text x="433.1" y="199.4" text-anchor="middle" font-size="14.6" font-family="Liberation Serif, serif">0.00</text>
<line x1="492.53" y1="178.4" x2="492.53" y2="183.4" stroke="#1a1a1a" stroke-width="1.35"/>
<text x="492.53" y="199.4" text-anchor="middle" font-size="14.6" font-family="Liberation Serif, serif">0.25</text>
<line x1="551.95" y1="178.4" x2="551.95" y2="183.4" stroke="#1a1a1a" stroke-width="1.35"/>
<text x="551.95" y="199.4" text-anchor="middle" font-size="14.6" font-family="Liberation Serif, serif">0.50</text>
<line x1="611.38" y1="178.4" x2="611.38" y2="183.4" stroke="#1a1a1a" stroke-width="1.35"/>
<text x="611.38" y="199.4" text-anchor="middle" font-size="14.6" font-family="Liberation Serif, serif">0.75</text>
<line x1="670.8" y1="178.4" x2="670.8" y2="183.4" stroke="#1a1a1a" stroke-width="1.35"/>
<text x="670.8" y="199.4" text-anchor="middle" font-size="14.6" font-family="Liberation Serif, serif">1.00</text>
<line x1="416.3" y1="174.6" x2="421.3" y2="174.6" stroke="#1a1a1a" stroke-width="1.35"/>
<text x="410.7" y="180.1" text-anchor="end" font-size="14.6" font-family="Liberation Serif, serif">0</text>
<line x1="416.3" y1="117.46" x2="421.3" y2="117.46" stroke="#1a1a1a" stroke-width="1.35"/>
<text x="410.7" y="122.96" text-anchor="end" font-size="14.6" font-family="Liberation Serif, serif">20</text>
<line x1="416.3" y1="60.32" x2="421.3" y2="60.32" stroke="#1a1a1a" stroke-width="1.35"/>
<text x="410.7" y="65.82" text-anchor="end" font-size="14.6" font-family="Liberation Serif, serif">40</text>
<text x="552" y="219.4" text-anchor="middle" font-size="14.7" font-family="Liberation Serif, serif">LD<tspan font-size="10.3" dy="3.5">50</tspan><tspan dy="-3.5"> threshold (λ)</tspan></text>
<text transform="translate(386.9,98.1) rotate(-90)" text-anchor="middle" font-size="14.8" font-family="Liberation Serif, serif">Time above threshold (days)</text>
<g clip-path="url(#cD)">
<path d="M433.1,372.69 L437.95,378.46 L442.8,378.46 L447.65,378.46 L452.5,378.46 L457.36,384.23 L462.21,384.23 L467.06,384.23 L471.91,384.23 L476.76,384.23 L481.61,384.23 L486.46,384.23 L491.31,384.23 L496.16,384.23 L501.01,384.23 L505.87,384.23 L510.72,384.23 L515.57,384.23 L520.42,384.23 L525.27,384.23 L530.12,384.23 L534.97,384.23 L539.82,384.23 L544.67,384.23 L549.52,384.23 L554.38,384.23 L559.23,384.23 L564.08,384.23 L568.93,384.23 L573.78,384.23 L578.63,384.23 L583.48,384.23 L588.33,384.23 L593.18,384.23 L598.03,384.23 L602.89,384.23 L607.74,384.23 L612.59,384.23 L617.44,384.23 L622.29,384.23 L627.14,384.23 L631.99,384.23 L636.84,384.23 L641.69,384.23 L646.54,384.23 L651.4,384.23 L656.25,384.23 L661.1,384.23 L665.95,384.23 L670.8,390 L670.8,390 L665.95,390 L661.1,390 L656.25,390 L651.4,390 L646.54,390 L641.69,390 L636.84,390 L631.99,390 L627.14,390 L622.29,390 L617.44,390 L612.59,390 L607.74,390 L602.89,390 L598.03,390 L593.18,390 L588.33,390 L583.48,390 L578.63,390 L573.78,390 L568.93,390 L564.08,390 L559.23,390 L554.38,390 L549.52,390 L544.67,390 L539.82,390 L534.97,390 L530.12,390 L525.27,390 L520.42,390 L515.57,390 L510.72,390 L505.87,390 L501.01,390 L496.16,390 L491.31,390 L486.46,390 L481.61,390 L476.76,390 L471.91,390 L467.06,390 L462.21,390 L457.36,390 L452.5,390 L447.65,390 L442.8,390 L437.95,390 L433.1,390Z" fill="url(#hD)" stroke="#f08080" stroke-width="1.6"/>
<path d="M433.1,343.84 L437.95,361.15 L442.8,366.92 L447.65,366.92 L452.5,372.69 L457.36,372.69 L462.21,372.69 L467.06,372.69 L471.91,372.69 L476.76,378.46 L481.61,378.46 L486.46,378.46 L491.31,378.46 L496.16,378.46 L501.01,378.46 L505.87,378.46 L510.72,378.46 L515.57,378.46 L520.42,378.46 L525.27,378.46 L530.12,378.46 L534.97,384.23 L539.82,384.23 L544.67,384.23 L549.52,384.23 L554.38,384.23 L559.23,384.23 L564.08,384.23 L568.93,384.23 L573.78,384.23 L578.63,384.23 L583.48,384.23 L588.33,384.23 L593.18,384.23 L598.03,384.23 L602.89,384.23 L607.74,384.23 L612.59,384.23 L617.44,384.23 L622.29,384.23 L627.14,384.23 L631.99,384.23 L636.84,384.23 L641.69,384.23 L646.54,384.23 L651.4,384.23 L656.25,384.23 L661.1,384.23 L665.95,384.23 L670.8,390 L670.8,390 L665.95,384.23 L661.1,384.23 L656.25,384.23 L651.4,384.23 L646.54,384.23 L641.69,384.23 L636.84,384.23 L631.99,384.23 L627.14,384.23 L622.29,384.23 L617.44,384.23 L612.59,384.23 L607.74,384.23 L602.89,384.23 L598.03,384.23 L593.18,384.23 L588.33,384.23 L583.48,384.23 L578.63,384.23 L573.78,384.23 L568.93,384.23 L564.08,384.23 L559.23,384.23 L554.38,384.23 L549.52,384.23 L544.67,384.23 L539.82,384.23 L534.97,384.23 L530.12,384.23 L525.27,384.23 L520.42,384.23 L515.57,384.23 L510.72,384.23 L505.87,384.23 L501.01,384.23 L496.16,384.23 L491.31,384.23 L486.46,384.23 L481.61,384.23 L476.76,384.23 L471.91,384.23 L467.06,384.23 L462.21,384.23 L457.36,384.23 L452.5,378.46 L447.65,378.46 L442.8,378.46 L437.95,378.46 L433.1,372.69Z" fill="rgba(0,0,255,0.25)" stroke="rgba(0,0,255,0.25)" stroke-width="1.1"/>
<path d="M433.1,361.15 L437.95,372.69 L442.8,372.69 L447.65,378.46 L452.5,378.46 L457.36,378.46 L462.21,378.46 L467.06,378.46 L471.91,378.46 L476.76,378.46 L481.61,378.46 L486.46,378.46 L491.31,384.23 L496.16,384.23 L501.01,384.23 L505.87,384.23 L510.72,384.23 L515.57,384.23 L520.42,384.23 L525.27,384.23 L530.12,384.23 L534.97,384.23 L539.82,384.23 L544.67,384.23 L549.52,384.23 L554.38,384.23 L559.23,384.23 L564.08,384.23 L568.93,384.23 L573.78,384.23 L578.63,384.23 L583.48,384.23 L588.33,384.23 L593.18,384.23 L598.03,384.23 L602.89,384.23 L607.74,384.23 L612.59,384.23 L617.44,384.23 L622.29,384.23 L627.14,384.23 L631.99,384.23 L636.84,384.23 L641.69,384.23 L646.54,384.23 L651.4,384.23 L656.25,384.23 L661.1,384.23 L665.95,384.23 L670.8,390 L670.8,390 L665.95,384.23 L661.1,384.23 L656.25,384.23 L651.4,384.23 L646.54,384.23 L641.69,384.23 L636.84,384.23 L631.99,384.23 L627.14,384.23 L622.29,384.23 L617.44,384.23 L612.59,384.23 L607.74,384.23 L602.89,384.23 L598.03,384.23 L593.18,384.23 L588.33,384.23 L583.48,384.23 L578.63,384.23 L573.78,384.23 L568.93,384.23 L564.08,384.23 L559.23,384.23 L554.38,384.23 L549.52,384.23 L544.67,384.23 L539.82,384.23 L534.97,384.23 L530.12,384.23 L525.27,384.23 L520.42,384.23 L515.57,384.23 L510.72,384.23 L505.87,384.23 L501.01,384.23 L496.16,384.23 L491.31,384.23 L486.46,384.23 L481.61,384.23 L476.76,384.23 L471.91,384.23 L467.06,378.46 L462.21,378.46 L457.36,378.46 L452.5,378.46 L447.65,378.46 L442.8,378.46 L437.95,372.69 L433.1,366.92Z" fill="rgba(0,0,255,0.5)" stroke="rgba(0,0,255,0.5)" stroke-width="1.1"/>
<path d="M433.1,361.15 L437.95,372.69 L442.8,378.46 L447.65,378.46 L452.5,378.46 L457.36,378.46 L462.21,378.46 L467.06,378.46 L471.91,378.46 L476.76,378.46 L481.61,384.23 L486.46,384.23 L491.31,384.23 L496.16,384.23 L501.01,384.23 L505.87,384.23 L510.72,384.23 L515.57,384.23 L520.42,384.23 L525.27,384.23 L530.12,384.23 L534.97,384.23 L539.82,384.23 L544.67,384.23 L549.52,384.23 L554.38,384.23 L559.23,384.23 L564.08,384.23 L568.93,384.23 L573.78,384.23 L578.63,384.23 L583.48,384.23 L588.33,384.23 L593.18,384.23 L598.03,384.23 L602.89,384.23 L607.74,384.23 L612.59,384.23 L617.44,384.23 L622.29,384.23 L627.14,384.23 L631.99,384.23 L636.84,384.23 L641.69,384.23 L646.54,384.23 L651.4,384.23 L656.25,384.23 L661.1,384.23 L665.95,384.23 L670.8,390" fill="none" stroke="#0000ff" stroke-width="2.0"/>
</g>
<rect x="421.3" y="231.4" width="261.4" height="161.1" fill="none" stroke="#1a1a1a" stroke-width="1.35"/>
<line x1="433.1" y1="392.5" x2="433.1" y2="397.5" stroke="#1a1a1a" stroke-width="1.35"/>
<text x="433.1" y="413.5" text-anchor="middle" font-size="14.6" font-family="Liberation Serif, serif">0.00</text>
<line x1="492.53" y1="392.5" x2="492.53" y2="397.5" stroke="#1a1a1a" stroke-width="1.35"/>
<text x="492.53" y="413.5" text-anchor="middle" font-size="14.6" font-family="Liberation Serif, serif">0.25</text>
<line x1="551.95" y1="392.5" x2="551.95" y2="397.5" stroke="#1a1a1a" stroke-width="1.35"/>
<text x="551.95" y="413.5" text-anchor="middle" font-size="14.6" font-family="Liberation Serif, serif">0.50</text>
<line x1="611.38" y1="392.5" x2="611.38" y2="397.5" stroke="#1a1a1a" stroke-width="1.35"/>
<text x="611.38" y="413.5" text-anchor="middle" font-size="14.6" font-family="Liberation Serif, serif">0.75</text>
<line x1="670.8" y1="392.5" x2="670.8" y2="397.5" stroke="#1a1a1a" stroke-width="1.35"/>
<text x="670.8" y="413.5" text-anchor="middle" font-size="14.6" font-family="Liberation Serif, serif">1.00</text>
<line x1="416.3" y1="390" x2="421.3" y2="390" stroke="#1a1a1a" stroke-width="1.35"/>
<text x="410.7" y="395.5" text-anchor="end" font-size="14.6" font-family="Liberation Serif, serif">0</text>
<line x1="416.3" y1="332.3" x2="421.3" y2="332.3" stroke="#1a1a1a" stroke-width="1.35"/>
<text x="410.7" y="337.8" text-anchor="end" font-size="14.6" font-family="Liberation Serif, serif">20</text>
<line x1="416.3" y1="274.6" x2="421.3" y2="274.6" stroke="#1a1a1a" stroke-width="1.35"/>
<text x="410.7" y="280.1" text-anchor="end" font-size="14.6" font-family="Liberation Serif, serif">40</text>
<text x="552" y="433.5" text-anchor="middle" font-size="14.7" font-family="Liberation Serif, serif">LD<tspan font-size="10.3" dy="3.5">50</tspan><tspan dy="-3.5"> threshold (λ)</tspan></text>
<text transform="translate(386.9,311.95) rotate(-90)" text-anchor="middle" font-size="14.8" font-family="Liberation Serif, serif">Time above threshold (days)</text>
<text x="1.2" y="21.6" font-size="30" font-weight="bold" font-family="Liberation Serif, serif">A)</text>
<text x="340.2" y="21.4" font-size="30" font-weight="bold" font-family="Liberation Serif, serif">B)</text>
<text x="1.6" y="218.0" font-size="30" font-weight="bold" font-family="Liberation Serif, serif">C)</text>
<text x="340.5" y="217.5" font-size="30" font-weight="bold" font-family="Liberation Serif, serif">D)</text>
<rect x="488.7" y="22.3" width="127.1" height="51" rx="1.5" fill="rgba(255,255,255,0.8)" stroke="#d6d6d6" stroke-width="1"/>
<rect x="491.1" y="25.25" width="18.4" height="6.4" fill="rgba(0,0,255,0.25)" stroke="rgba(0,0,255,0.25)" stroke-width="1.1"/>
<rect x="491.1" y="37.45" width="18.4" height="6.4" fill="rgba(0,0,255,0.5)" stroke="rgba(0,0,255,0.5)" stroke-width="1.1"/>
<line x1="491.1" y1="53.0" x2="509.5" y2="53.0" stroke="#0000ff" stroke-width="1.6"/>
<line x1="491.1" y1="65.2" x2="509.5" y2="65.2" stroke="#000" stroke-width="2.232" stroke-dasharray="8.26 3.57"/>
<text x="516.2" y="31.6" font-size="8.6" font-family="Liberation Serif, serif">Range</text>
<text x="516.2" y="43.8" font-size="8.6" font-family="Liberation Serif, serif">IQR</text>
<text x="516.2" y="56" font-size="8.6" font-family="Liberation Serif, serif">Median</text>
<text x="516.2" y="68.2" font-size="8.6" font-family="Liberation Serif, serif"><tspan font-style="italic">λ</tspan><tspan font-size="6" dy="2">0</tspan></text>
<line x1="559.3" y1="28.6" x2="576.7" y2="28.6" stroke="#000" stroke-width="2.232" stroke-dasharray="14.28 3.57 2.23 3.57"/>
<line x1="559.3" y1="40.8" x2="576.7" y2="40.8" stroke="#000" stroke-width="2.232" stroke-dasharray="2.23 3.68"/>
<rect x="559.3" y="50.25" width="17.4" height="6.4" fill="url(#hB)" stroke="#f08080" stroke-width="1.3"/>
<text x="582.9" y="31.6" font-size="8.6" font-family="Liberation Serif, serif"><tspan font-style="italic">λ</tspan><tspan font-size="6" dy="2">1/2</tspan></text>
<text x="582.9" y="43.8" font-size="8.6" font-family="Liberation Serif, serif"><tspan font-style="italic">λ</tspan><tspan font-size="6" dy="2">1</tspan></text>
<text x="582.9" y="56.6" font-size="8.6" font-family="Liberation Serif, serif">Toxicity</text>
<g clip-path="url(#cB)">
<line x1="433.1" y1="178.4" x2="433.1" y2="17.8" stroke="#000" stroke-width="2.232" stroke-dasharray="8.26 3.57"/>
<line x1="551.95" y1="178.4" x2="551.95" y2="17.8" stroke="#000" stroke-width="2.232" stroke-dasharray="14.28 3.57 2.23 3.57"/>
<line x1="670.8" y1="178.4" x2="670.8" y2="17.8" stroke="#000" stroke-width="2.232" stroke-dasharray="2.23 3.68"/>
</g>
<g clip-path="url(#cD)">
<line x1="433.1" y1="392.5" x2="433.1" y2="231.4" stroke="#000" stroke-width="2.232" stroke-dasharray="8.26 3.57"/>
<line x1="551.95" y1="392.5" x2="551.95" y2="231.4" stroke="#000" stroke-width="2.232" stroke-dasharray="14.28 3.57 2.23 3.57"/>
<line x1="670.8" y1="392.5" x2="670.8" y2="231.4" stroke="#000" stroke-width="2.232" stroke-dasharray="2.23 3.68"/>
</g>
</svg>
</body></html>
